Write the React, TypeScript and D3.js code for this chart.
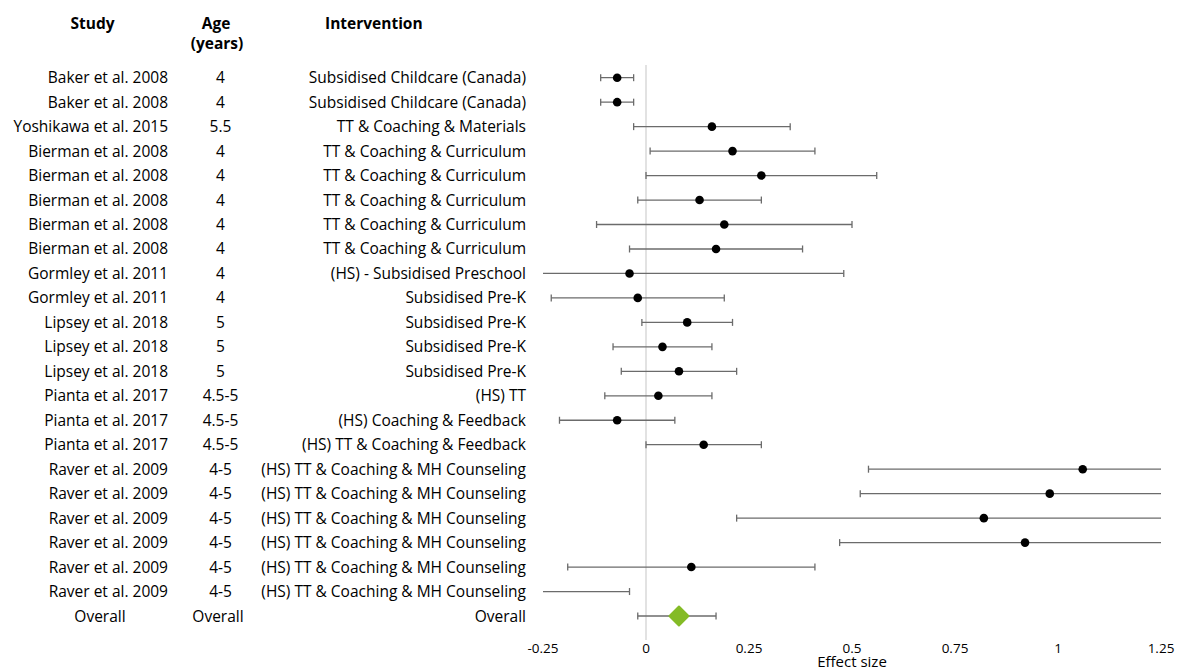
import React from "react";
import * as d3 from "d3";

// Forest plot: effect sizes with 95% confidence intervals per study arm
const studies = [
  "Baker et al. 2008", "Baker et al. 2008", "Yoshikawa et al. 2015",
  "Bierman et al. 2008", "Bierman et al. 2008", "Bierman et al. 2008",
  "Bierman et al. 2008", "Bierman et al. 2008", "Gormley et al. 2011",
  "Gormley et al. 2011", "Lipsey et al. 2018", "Lipsey et al. 2018",
  "Lipsey et al. 2018", "Pianta et al. 2017", "Pianta et al. 2017",
  "Pianta et al. 2017", "Raver et al. 2009", "Raver et al. 2009",
  "Raver et al. 2009", "Raver et al. 2009", "Raver et al. 2009",
  "Raver et al. 2009",
];
const ages = [
  "4", "4", "5.5", "4", "4", "4", "4", "4", "4", "4", "5", "5", "5",
  "4.5-5", "4.5-5", "4.5-5", "4-5", "4-5", "4-5", "4-5", "4-5", "4-5",
];
const interventions = [
  "Subsidised Childcare (Canada)", "Subsidised Childcare (Canada)",
  "TT & Coaching & Materials", "TT & Coaching & Curriculum",
  "TT & Coaching & Curriculum", "TT & Coaching & Curriculum",
  "TT & Coaching & Curriculum", "TT & Coaching & Curriculum",
  "(HS) - Subsidised Preschool", "Subsidised Pre-K", "Subsidised Pre-K",
  "Subsidised Pre-K", "Subsidised Pre-K", "(HS) TT",
  "(HS) Coaching & Feedback", "(HS) TT & Coaching & Feedback",
  "(HS) TT & Coaching & MH Counseling", "(HS) TT & Coaching & MH Counseling",
  "(HS) TT & Coaching & MH Counseling", "(HS) TT & Coaching & MH Counseling",
  "(HS) TT & Coaching & MH Counseling", "(HS) TT & Coaching & MH Counseling",
];
const effects = [
  -0.07, -0.07, 0.16, 0.21, 0.28, 0.13, 0.19, 0.17, -0.04, -0.02, 0.1,
  0.04, 0.08, 0.03, -0.07, 0.14, 1.06, 0.98, 0.82, 0.92, 0.11, -0.45,
];
const lowerCI = [
  -0.11, -0.11, -0.03, 0.01, 0.0, -0.02, -0.12, -0.04, -0.56, -0.23, -0.01,
  -0.08, -0.06, -0.1, -0.21, 0.0, 0.54, 0.52, 0.22, 0.47, -0.19, -0.86,
];
const upperCI = [
  -0.03, -0.03, 0.35, 0.41, 0.56, 0.28, 0.5, 0.38, 0.48, 0.19, 0.21, 0.16,
  0.22, 0.16, 0.07, 0.28, 1.58, 1.44, 1.42, 1.37, 0.41, -0.04,
];
const overallLabel = "Overall";
const overallEffect = 0.08;
const overallLower = -0.02;
const overallUpper = 0.17;
const xTicks = [-0.25, 0, 0.25, 0.5, 0.75, 1, 1.25];

const W = 1184;
const H = 671;
const FONT = "'Open Sans', Lato, sans-serif";

export default function App() {
  const x = d3.scaleLinear().domain([-0.25, 1.25]).range([543, 1161]);
  const rowKeys = [...studies.map((_, i) => `r${i}`), "overall"];
  const y = d3.scalePoint<string>().domain(rowKeys).range([77.7, 616]);

  const [xMin, xMax] = x.domain();
  const inside = (v: number) => v >= xMin - 1e-9 && v <= xMax + 1e-9;
  const capH = 3.5;
  const barColor = "#6b6b6b";
  const fmt = (v: number) => (v === 0 ? "0" : String(v));
  const base = 5.5; // baseline offset below row centre

  const rows = studies.map((s, i) => ({
    key: `r${i}`,
    study: s,
    age: ages[i],
    intervention: interventions[i],
    est: effects[i],
    lo: lowerCI[i],
    hi: upperCI[i],
  }));

  const overallY = y("overall")!;
  const dSize = 9.5;
  const ox = x(overallEffect);

  return (
    <svg
      width={W}
      height={H}
      style={{ position: "absolute", left: 0, top: 0, background: "#fff" }}
      fontFamily={FONT}
    >
      <defs>
        <clipPath id="plotClip">
          <rect x={x(xMin)} y={0} width={x(xMax) - x(xMin)} height={H} />
        </clipPath>
      </defs>

      {/* column headers */}
      <g fontWeight="bold" fontSize={15.5} fill="#000">
        <text x={92.5} y={28.5} textAnchor="middle">Study</text>
        <text x={216} y={28.5} textAnchor="middle">Age</text>
        <text x={217} y={49} textAnchor="middle">(years)</text>
        <text x={325} y={28.5} textAnchor="start">Intervention</text>
      </g>

      {/* reference line at zero */}
      <line
        x1={x(0)}
        x2={x(0)}
        y1={65}
        y2={640}
        stroke="#d9d9d9"
        strokeWidth={1.5}
      />

      {/* row labels */}
      <g fontSize={15.5} fill="#000">
        {rows.map((r) => (
          <g key={r.key}>
            <text x={168} y={y(r.key)! + base} textAnchor="end">{r.study}</text>
            <text x={220.5} y={y(r.key)! + base} textAnchor="middle">{r.age}</text>
            <text x={526} y={y(r.key)! + base} textAnchor="end">{r.intervention}</text>
          </g>
        ))}
        <text x={100} y={overallY + base} textAnchor="middle">{overallLabel}</text>
        <text x={218} y={overallY + base} textAnchor="middle">{overallLabel}</text>
        <text x={526} y={overallY + base} textAnchor="end">{overallLabel}</text>
      </g>

      {/* confidence intervals and point estimates */}
      <g clipPath="url(#plotClip)">
        {rows.map((r) => {
          const yy = y(r.key)!;
          return (
            <g key={r.key}>
              <line
                x1={x(r.lo)}
                x2={x(r.hi)}
                y1={yy}
                y2={yy}
                stroke={barColor}
                strokeWidth={1.3}
              />
              {inside(r.lo) && (
                <line x1={x(r.lo)} x2={x(r.lo)} y1={yy - capH} y2={yy + capH} stroke={barColor} strokeWidth={1.3} />
              )}
              {inside(r.hi) && (
                <line x1={x(r.hi)} x2={x(r.hi)} y1={yy - capH} y2={yy + capH} stroke={barColor} strokeWidth={1.3} />
              )}
              {inside(r.est) && <circle cx={x(r.est)} cy={yy} r={4.3} fill="#000" />}
            </g>
          );
        })}
        <line x1={x(overallLower)} x2={x(overallUpper)} y1={overallY} y2={overallY} stroke={barColor} strokeWidth={1.3} />
        <line x1={x(overallLower)} x2={x(overallLower)} y1={overallY - capH} y2={overallY + capH} stroke={barColor} strokeWidth={1.3} />
        <line x1={x(overallUpper)} x2={x(overallUpper)} y1={overallY - capH} y2={overallY + capH} stroke={barColor} strokeWidth={1.3} />
        <path
          d={`M${ox},${overallY - dSize} L${ox + dSize},${overallY} L${ox},${overallY + dSize} L${ox - dSize},${overallY} Z`}
          fill="#84bb26"
          stroke="#84bb26"
          strokeWidth={2}
          strokeLinejoin="round"
        />
      </g>

      {/* x axis labels */}
      <g fill="#000">
        {xTicks.map((t) => (
          <text key={t} x={x(t)} y={653} textAnchor="middle" fontSize={13.5}>
            {fmt(t)}
          </text>
        ))}
        <text x={x(0.5)} y={667} textAnchor="middle" fontSize={15}>
          Effect size
        </text>
      </g>
    </svg>
  );
}
